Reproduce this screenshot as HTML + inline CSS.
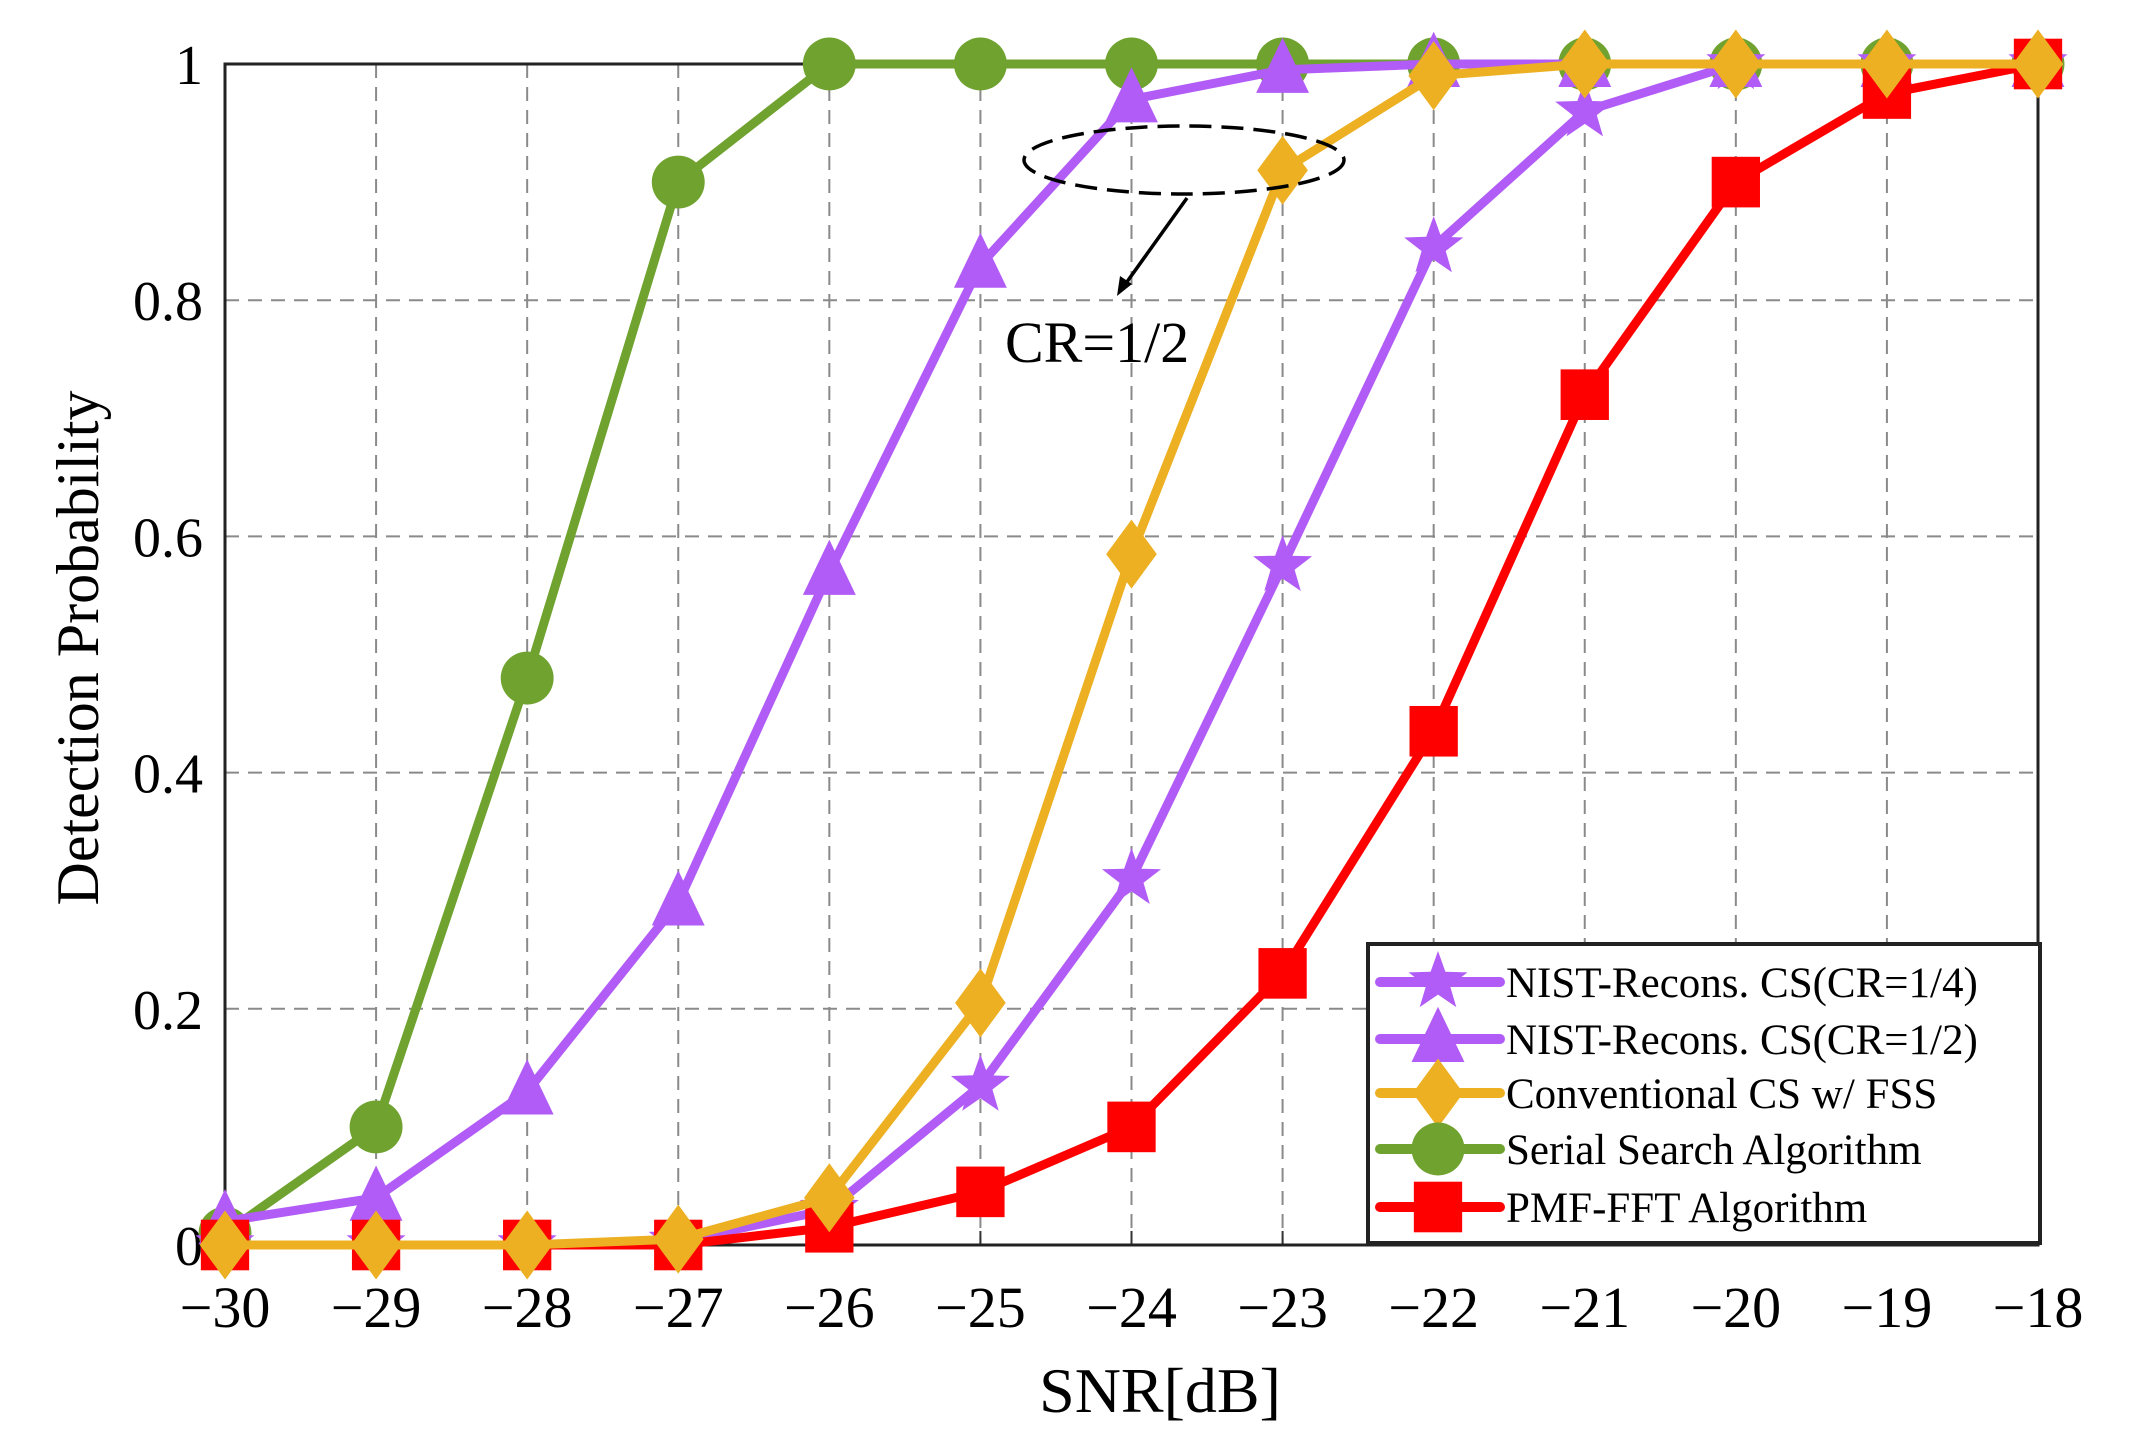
<!DOCTYPE html>
<html><head><meta charset="utf-8"><style>
html,body{margin:0;padding:0;background:#fff;}
svg{display:block;font-family:"Liberation Serif",serif;}
</style></head><body>
<svg id="chart" width="2139" height="1455" viewBox="0 0 2139 1455" xmlns="http://www.w3.org/2000/svg">
<g id="grid"></g>
<g id="axes"></g>
<g id="series"></g>
<g id="annot">
  <ellipse cx="1184" cy="160" rx="160" ry="34" fill="none" stroke="#000" stroke-width="3.5" stroke-dasharray="22,10"/>
  <line x1="1187" y1="198" x2="1124" y2="286" stroke="#000" stroke-width="3.5"/>
  <polygon points="1117,296 1120,276 1132,284" fill="#000"/>
  <text x="1005" y="362" font-size="58">CR=1/2</text>
</g>
<g id="legend"></g>
</svg>
<script>
const xValues = [-30,-29,-28,-27,-26,-25,-24,-23,-22,-21,-20,-19,-18];
const yTicks = [0,0.2,0.4,0.6,0.8,1];
const yTickLabels = ["0","0.2","0.4","0.6","0.8","1"];
const seriesNames = ["NIST-Recons. CS(CR=1/4)","NIST-Recons. CS(CR=1/2)","Conventional CS w/ FSS","Serial Search Algorithm","PMF-FFT Algorithm"];
const starVals = [0,0,0,0.003,0.03,0.135,0.31,0.575,0.845,0.96,1,1,1];
const triVals = [0.02,0.04,0.13,0.29,0.57,0.83,0.97,0.995,1,1,1,1,1];
const diaVals = [0,0,0,0.005,0.04,0.205,0.585,0.91,0.99,1,1,1,1];
const circVals = [0.01,0.1,0.48,0.9,1,1,1,1,1,1,1,1,1];
const sqVals = [0,0,0,0,0.015,0.045,0.1,0.23,0.435,0.72,0.9,0.975,1];

const L=225,R=2038,T=64,B=1245;
const NS="http://www.w3.org/2000/svg";
const xs=v=>L+(v-(-30))/12*(R-L);
const ys=v=>B-v*(B-T);
function mk(tag,attrs,parent){const e=document.createElementNS(NS,tag);for(const k in attrs)e.setAttribute(k,attrs[k]);parent.appendChild(e);return e;}
const grid=document.getElementById('grid'),axes=document.getElementById('axes'),ser=document.getElementById('series'),leg=document.getElementById('legend');

xValues.forEach(v=>{
  const g=mk('line',{x1:xs(v),x2:xs(v),y1:T,y2:B,stroke:'#8a8a8a','stroke-width':2,'stroke-dasharray':'14,9'},grid);
  
  
  const t=mk('text',{x:xs(v),y:B+82,'font-size':58,'text-anchor':'middle'},axes);
  t.textContent='\u2212'+Math.abs(v);
  
  
  const tk=mk('line',{x1:xs(v),x2:xs(v),y1:B,y2:B-14,stroke:'#333','stroke-width':2},axes);
  
  
});
yTicks.forEach((v,i)=>{
  const g=mk('line',{x1:L,x2:R,y1:ys(v),y2:ys(v),stroke:'#8a8a8a','stroke-width':2,'stroke-dasharray':'14,9'},grid);
  
  
  const t=mk('text',{x:L-22,y:ys(v)+20,'font-size':56,'text-anchor':'end'},axes);
  t.textContent=yTickLabels[i];
  
  
});
const box=mk('rect',{x:L,y:T,width:R-L,height:B-T,fill:'none',stroke:'#222','stroke-width':3},axes);


const xt=mk('text',{x:1160,y:1412,'font-size':64,'text-anchor':'middle'},axes);
xt.textContent='SNR[dB]';


const yt=mk('text',{x:0,y:0,'font-size':60,'text-anchor':'middle',transform:'translate(98,648) rotate(-90)'},axes);
yt.textContent='Detection Probability';



function marker(type,x,y,color,parent,s){
  let e;
  if(type==='circle') e=mk('circle',{cx:x,cy:y,r:23*s,fill:color},parent);
  else if(type==='square') e=mk('rect',{x:x-21*s,y:y-22*s,width:42*s,height:44*s,fill:color},parent);
  else if(type==='diamond') e=mk('polygon',{points:`${x},${y-30*s} ${x+22*s},${y} ${x},${y+30*s} ${x-22*s},${y}`,fill:color},parent);
  else if(type==='triangle') e=mk('polygon',{points:`${x},${y-28*s} ${x+23*s},${y+20*s} ${x-23*s},${y+20*s}`,fill:color},parent);
  else {let p=[];for(let k=0;k<10;k++){const a=-Math.PI/2+k*Math.PI/5,r=(k%2?11:27)*s;p.push((x+r*Math.cos(a)).toFixed(1)+','+(y+r*Math.sin(a)).toFixed(1));}
    e=mk('polygon',{points:p.join(' '),fill:color},parent);}
  return e;
}
const defs=[
 {vals:circVals,color:'#6fa22e',m:'circle',name:'serial-search'},
 {vals:triVals,color:'#b25cf7',m:'triangle',name:'nist-cr-half'},
 {vals:starVals,color:'#b25cf7',m:'star',name:'nist-cr-quarter'},
 {vals:sqVals,color:'#ff0000',m:'square',name:'pmf-fft'},
 {vals:diaVals,color:'#ecb022',m:'diamond',name:'conventional-cs'}
];
defs.forEach(d=>{
  const g=mk('g',{},ser);
  
  
  const pl=mk('polyline',{points:xValues.map((x,i)=>xs(x)+','+ys(d.vals[i])).join(' '),fill:'none',stroke:d.color,'stroke-width':9,'stroke-linejoin':'round'},g);
  
  
  xValues.forEach((x,i)=>{
    const m=marker(d.m,xs(x),ys(d.vals[i]),d.color,g,1.15);
    
    
  });
});
const lb=mk('rect',{x:1368,y:944,width:672,height:299,fill:'#fff',stroke:'#222','stroke-width':4},leg);


const legDefs=[['star','#b25cf7'],['triangle','#b25cf7'],['diamond','#ecb022'],['circle','#6fa22e'],['square','#ff0000']];
const rowY=[982,1039,1093,1149,1207];
legDefs.forEach((ld,i)=>{
  const g=mk('g',{},leg);
  
  
  mk('line',{x1:1380,x2:1500,y1:rowY[i],y2:rowY[i],stroke:ld[1],'stroke-width':10,'stroke-linecap':'round'},g);
  marker(ld[0],1438,rowY[i],ld[1],g,1.15);
  const t=mk('text',{x:1506,y:rowY[i]+15,'font-size':43},g);
  t.textContent=seriesNames[i];
});
</script>
</body></html>
